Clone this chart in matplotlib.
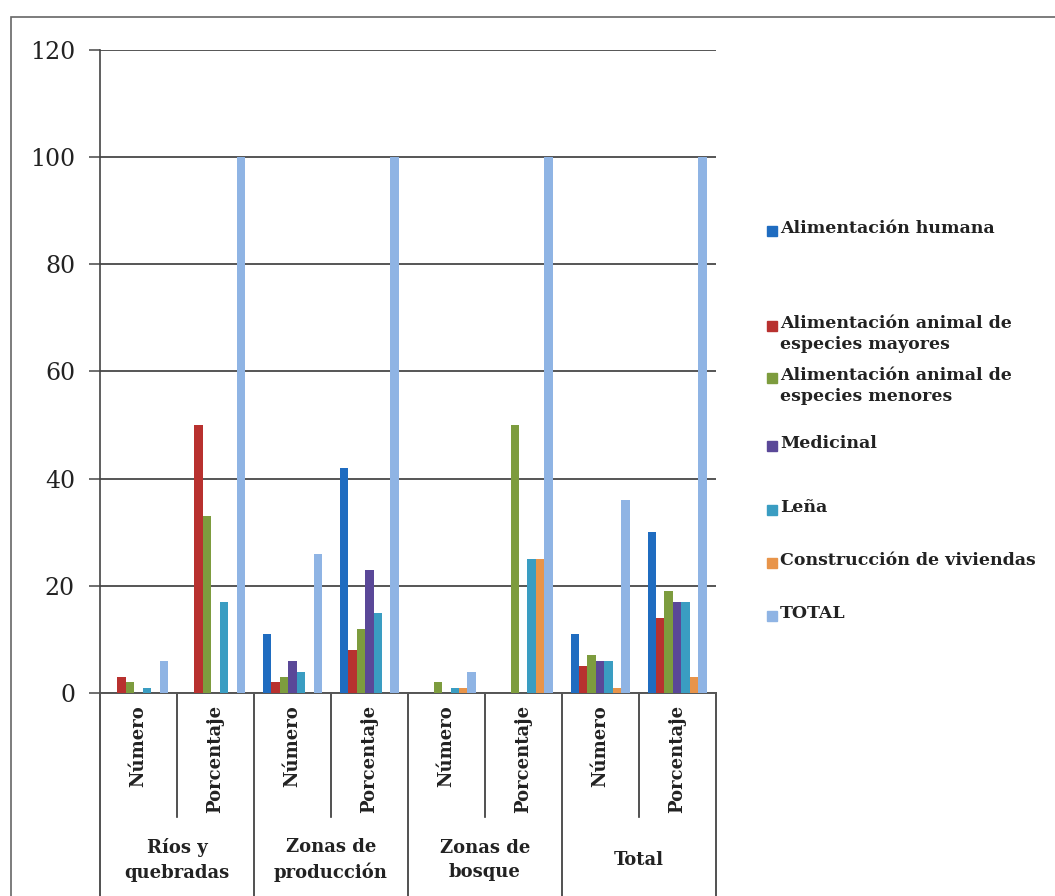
import matplotlib
matplotlib.use('Agg')
import matplotlib.pyplot as plt
from matplotlib.patches import Rectangle
import numpy as np

# categorias (dos niveles)
zonas = ['Ríos y\nquebradas', 'Zonas de\nproducción', 'Zonas de\nbosque', 'Total']
subcats = ['Número', 'Porcentaje']

series = ['Alimentación humana',
          'Alimentación animal de\nespecies mayores',
          'Alimentación animal de\nespecies menores',
          'Medicinal',
          'Leña',
          'Construcción de viviendas',
          'TOTAL']
colores = ['#1f6cc0', '#b8312f', '#7d9c3e', '#5a4898', '#3a9dc2', '#e8944a', '#8fb4e4']

# valores: Rios N, Rios %, Prod N, Prod %, Bosque N, Bosque %, Total N, Total %
humana       = [0, 0, 11, 42, 0, 0, 11, 30]
mayores      = [3, 50, 2, 8, 0, 0, 5, 14]
menores      = [2, 33, 3, 12, 2, 50, 7, 19]
medicinal    = [0, 0, 6, 23, 0, 0, 6, 17]
lena         = [1, 17, 4, 15, 1, 25, 6, 17]
construccion = [0, 0, 0, 0, 1, 25, 1, 3]
total        = [6, 100, 26, 100, 4, 100, 36, 100]
valores = [humana, mayores, menores, medicinal, lena, construccion, total]

fuente = 'DejaVu Serif'
tc = '#222222'

fig = plt.figure(figsize=(10.55, 8.96), dpi=100)
ax = fig.add_axes([0.0948, 0.2266, 0.5835, 0.7176])

x = np.arange(len(subcats) * len(zonas))
w = 0.11
for i, (vals, c) in enumerate(zip(valores, colores)):
    ax.bar(x + (i - 3) * w, vals, width=w, color=c, label=series[i], zorder=3)

ax.set_xlim(-0.5, 7.5)
ax.set_ylim(0, 120)
ax.set_yticks(range(0, 121, 20))
ax.yaxis.grid(True, color='#555555', linewidth=1.4, zorder=0)
for s in ['top', 'right']:
    ax.spines[s].set_visible(False)
ax.spines['left'].set_color('#444444')
ax.spines['bottom'].set_color('#555555')
ax.spines['left'].set_linewidth(1.2)
ax.spines['bottom'].set_linewidth(1.4)
ax.tick_params(axis='y', labelsize=17, length=8, width=1.2, color='#555555', pad=10,
               labelcolor=tc)
ax.set_xticks([])
for lab in ax.get_yticklabels():
    lab.set_family(fuente)

# separadores y etiquetas del eje x
tr = ax.get_xaxis_transform()
for k in range(9):
    xb = k - 0.5
    y2 = -0.32 if k % 2 == 0 else -0.193
    ax.plot([xb, xb], [0, y2], transform=tr, color='#333333', lw=1.2, clip_on=False)
for k in x:
    ax.text(k, -0.019, subcats[k % 2], transform=tr, rotation=90, ha='center', va='top',
            family=fuente, fontsize=13, weight='bold', color=tc)
for j, z in enumerate(zonas):
    ax.text(2 * j + 0.5, -0.260, z, transform=tr, ha='center', va='center',
            family=fuente, fontsize=13, weight='bold', linespacing=1.45, color=tc)

# leyenda a la derecha
ley_y = [231, 326, 378, 446, 510, 563, 616]
for yy, lab, c in zip(ley_y, series, colores):
    yf = 1 - yy / 896
    fig.patches.append(Rectangle((767 / 1055, yf - 5 / 896), 10 / 1055, 10 / 896,
                                 transform=fig.transFigure, color=c))
    fig.text(780 / 1055, yf + 11 / 896, lab, ha='left', va='top', family=fuente,
             fontsize=12.5, weight='bold', linespacing=1.3, color=tc)

# marco
fig.patches.append(Rectangle((11 / 1055, -0.02), 1.05, 1.02 - 17 / 896,
                             transform=fig.transFigure, fill=False, edgecolor='#666666', lw=1.2))

plt.savefig('out.png')
